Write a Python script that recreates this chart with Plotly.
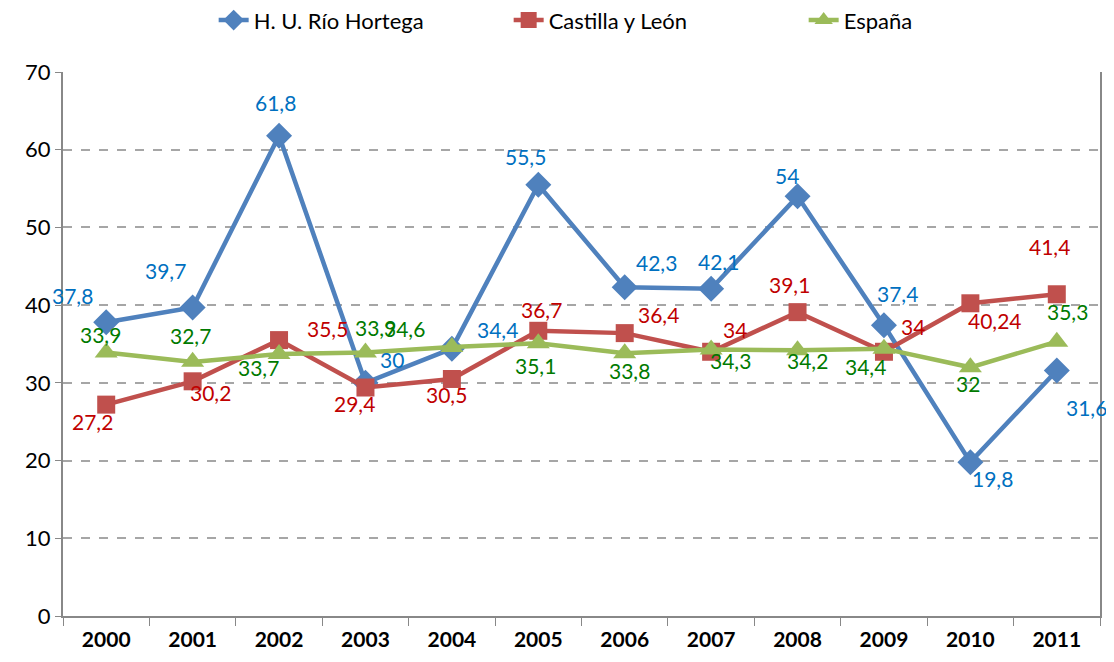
import plotly.graph_objects as go

years = ["2000", "2001", "2002", "2003", "2004", "2005", "2006", "2007", "2008", "2009", "2010", "2011"]
hortega = [37.8, 39.7, 61.8, 30, 34.4, 55.5, 42.3, 42.1, 54, 37.4, 19.8, 31.6]
castilla = [27.2, 30.2, 35.5, 29.4, 30.5, 36.7, 36.4, 34, 39.1, 34, 40.24, 41.4]
espana = [33.9, 32.7, 33.7, 33.9, 34.6, 35.1, 33.8, 34.3, 34.2, 34.4, 32, 35.3]

# label pixel offsets (style)
off_h = [(-34, -27), (-27, -37), (-4, -33), (27, -23), (46, -19), (-13, -28),
         (32, -25), (7, -27), (-11, -21), (14, -32), (22, 16), (30, 37)]
off_c = [(-14, 17), (18, 11), (48, -12), (-11, 16), (-5, 16), (3, -21),
         (34, -19), (24, -22), (-8, -28), (29, -25), (25, 17), (-7, -48)]
off_e = [(-6, -18), (-2, -26), (-21, 13), (10, -25), (-47, -19), (-3, 22),
         (5, 17), (19, 11), (10, 10), (-18, 18), (-2, 16), (11, -30)]

FONT = "Lato, Calibri, Carlito, sans-serif"

def fmt(v):
    return ("%g" % v).replace(".", ",")

fig = go.Figure()
series = [
    ("H. U. Río Hortega", hortega, "#4F81BD", "diamond", 20, "#0070C0", off_h),
    ("Castilla y León", castilla, "#C0504D", "square", 18, "#C00000", off_c),
    ("España", espana, "#9BBB59", "triangle-up", 20, "#007A00", off_e),
]
for name, vals, col, sym, sz, lcol, offs in series:
    fig.add_trace(go.Scatter(
        x=years, y=vals, name=name, mode="lines+markers",
        line=dict(color=col, width=4.5),
        marker=dict(symbol=sym, size=sz, color=col),
    ))
for name, vals, col, sym, sz, lcol, offs in series:
    for i, (v, (dx, dy)) in enumerate(zip(vals, offs)):
        fig.add_annotation(
            x=i, y=v, xref="x", yref="y", text=fmt(v), showarrow=False,
            xshift=dx, yshift=-dy, font=dict(family=FONT, size=21, color=lcol),
        )

fig.update_layout(
    width=1098, height=646,
    margin=dict(l=55, r=6, t=64, b=38, autoexpand=False),
    paper_bgcolor="white", plot_bgcolor="white",
    font=dict(family=FONT, size=20, color="black"),
    showlegend=True,
    legend=dict(orientation="h", x=0.572, xanchor="center", y=0.981, yanchor="middle",
                yref="container",
                font=dict(family=FONT, size=22, color="black"),
                entrywidth=250, traceorder="normal"),
)
fig.update_xaxes(
    type="category", tickson="boundaries", ticks="outside", ticklen=8,
    tickcolor="#888888", showline=True, linecolor="#888888", linewidth=2,
    showgrid=False, tickfont=dict(family=FONT, size=21, color="black", weight="bold"),
    range=[-0.5, 11.5], automargin=False, ticklabelstandoff=4,
)
fig.update_yaxes(
    range=[0, 70], dtick=10, showgrid=True, gridcolor="#A6A6A6", griddash="dash",
    gridwidth=1.5, ticks="outside", ticklen=6, tickcolor="#888888",
    showline=True, linecolor="#888888", linewidth=2, mirror=True,
    zeroline=False, tickfont=dict(family=FONT, size=22, color="black"),
    automargin=False,
)
fig.write_html("out.html")
